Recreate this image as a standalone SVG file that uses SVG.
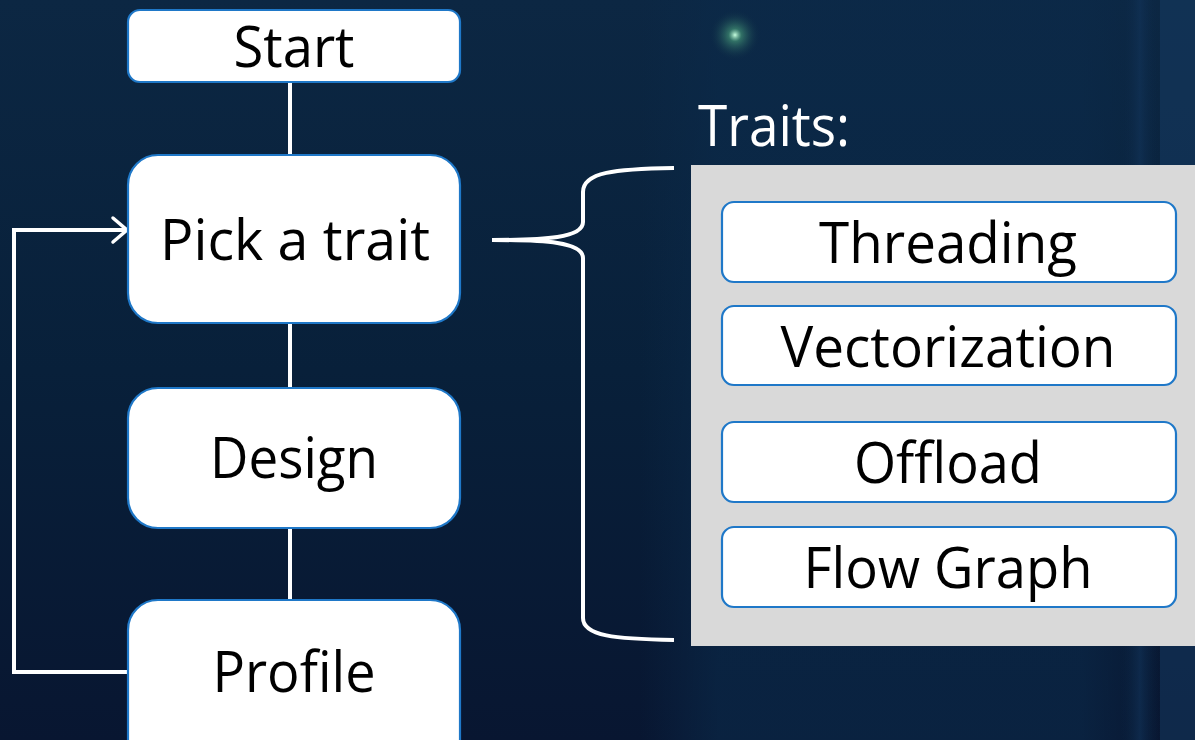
<svg xmlns="http://www.w3.org/2000/svg" width="1195" height="740" viewBox="0 0 1195 740">
<style>
.box{fill:#ffffff;stroke:#1f78c8;stroke-width:2.2}
.lbl{font-family:"Open Sans","Noto Sans","DejaVu Sans",sans-serif;font-size:56px;fill:#000;text-anchor:middle}
.conn{fill:none;stroke:#ffffff;stroke-width:4}
</style>
<defs>
<linearGradient id="bg" x1="0" y1="0" x2="0" y2="1">
<stop offset="0" stop-color="#0c2743"/>
<stop offset="0.5" stop-color="#08203a"/>
<stop offset="1" stop-color="#081631"/>
</linearGradient>
<linearGradient id="mid" x1="0" y1="0" x2="1" y2="0">
<stop offset="0" stop-color="#0b2a4a" stop-opacity="0"/>
<stop offset="0.15" stop-color="#0b2a4a" stop-opacity="0.6"/>
<stop offset="0.85" stop-color="#0b2a4a" stop-opacity="0.6"/>
<stop offset="1" stop-color="#0b2a4a" stop-opacity="0"/>
</linearGradient>
<linearGradient id="rack" x1="0" y1="0" x2="1" y2="0">
<stop offset="0" stop-color="#0a2440" stop-opacity="0"/>
<stop offset="0.5" stop-color="#12345a" stop-opacity="0.6"/>
<stop offset="1" stop-color="#0a2440" stop-opacity="0"/>
</linearGradient>
<radialGradient id="glow">
<stop offset="0" stop-color="#c8ffe0" stop-opacity="1"/>
<stop offset="0.25" stop-color="#4aa07a" stop-opacity="0.6"/>
<stop offset="1" stop-color="#0a2440" stop-opacity="0"/>
</radialGradient>
<marker id="arr" markerWidth="30" markerHeight="34" refX="24" refY="17" orient="auto" markerUnits="userSpaceOnUse" overflow="visible">
<path d="M10,5 L24,17 L10,29" fill="none" stroke="#fff" stroke-width="3.5" stroke-linejoin="miter" stroke-linecap="round"/>
</marker>
</defs>
<rect width="1195" height="740" fill="url(#bg)"/>
<rect x="640" y="0" width="520" height="740" fill="url(#mid)"/>
<rect x="1120" y="0" width="40" height="740" fill="url(#rack)"/>
<rect x="1160" y="0" width="35" height="740" fill="#18406a" opacity="0.45"/>
<circle cx="735" cy="35" r="26" fill="url(#glow)"/>
<g id="connectors">
<line class="conn" x1="290" y1="82" x2="290" y2="155" stroke-width="3"/>
<line class="conn" x1="290" y1="323" x2="290" y2="388" stroke-width="3"/>
<line class="conn" x1="290" y1="528" x2="290" y2="600" stroke-width="3"/>
<polyline class="conn" points="128,672 14,672 14,230 127,230" stroke-width="3.5" marker-end="url(#arr)"/>
<path class="conn" d="M492,240 C545,240 583,238 583,222 L583,192 C583,172 615,169 674,168 M492,240 C545,240 583,242 583,258 L583,618 C583,636 615,639 674,640"/>
</g>
<g id="start">
<rect class="box" x="128" y="10" width="332" height="72" rx="12"/>
<text class="lbl" x="294" y="67" textLength="121" lengthAdjust="spacingAndGlyphs">Start</text>
</g>
<g id="pick">
<rect class="box" x="128" y="155" width="332" height="168" rx="30"/>
<text class="lbl" x="295" y="260" textLength="270" lengthAdjust="spacingAndGlyphs">Pick a trait</text>
</g>
<g id="design">
<rect class="box" x="128" y="388" width="332" height="140" rx="30"/>
<text class="lbl" x="294" y="478" textLength="168" lengthAdjust="spacingAndGlyphs">Design</text>
</g>
<g id="profile">
<rect class="box" x="128" y="600" width="332" height="170" rx="30"/>
<text class="lbl" x="294" y="692" textLength="163" lengthAdjust="spacingAndGlyphs">Profile</text>
</g>
<g id="traits-title">
<text x="698" y="146" font-family="'Open Sans','Noto Sans',sans-serif" font-size="56" fill="#ffffff" textLength="152" lengthAdjust="spacingAndGlyphs">Traits:</text>
</g>
<g id="traits-panel">
<rect x="691" y="165" width="510" height="481" fill="#d9d9d9"/>
</g>
<g id="threading">
<rect class="box" x="722" y="202" width="454" height="80" rx="12"/>
<text class="lbl" x="948" y="263" textLength="258" lengthAdjust="spacingAndGlyphs">Threading</text>
</g>
<g id="vectorization">
<rect class="box" x="722" y="306" width="454" height="79" rx="12"/>
<text class="lbl" x="948" y="367" textLength="335" lengthAdjust="spacingAndGlyphs">Vectorization</text>
</g>
<g id="offload">
<rect class="box" x="722" y="422" width="454" height="80" rx="12"/>
<text class="lbl" x="948" y="483" textLength="188" lengthAdjust="spacingAndGlyphs">Offload</text>
</g>
<g id="flowgraph">
<rect class="box" x="722" y="527" width="454" height="80" rx="12"/>
<text class="lbl" x="948" y="588" textLength="289" lengthAdjust="spacingAndGlyphs">Flow Graph</text>
</g>
</svg>
